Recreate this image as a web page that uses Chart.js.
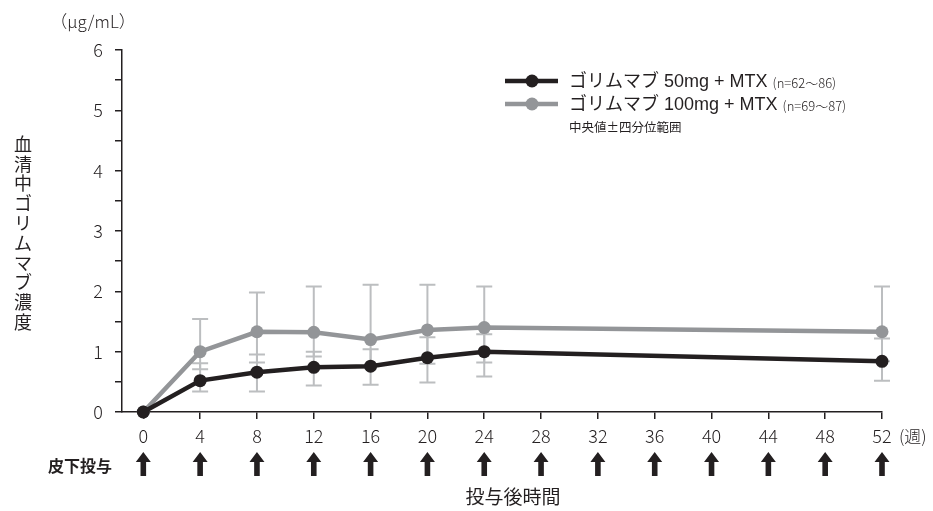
<!DOCTYPE html>
<html>
<head>
<meta charset="utf-8">
<script src="https://cdn.jsdelivr.net/npm/chart.js@4"></script>
<style>
  html, body { margin: 0; padding: 0; background: #fff; }
  #wrap { width: 933px; height: 511px; position: relative; }
</style>
</head>
<body>
<div id="wrap"><canvas id="grafico"></canvas></div>
<script>
// dados
var semanas = [0, 4, 8, 12, 16, 20, 24, 52];
var mediana_50 = [0, 0.52, 0.66, 0.74, 0.76, 0.90, 1.00, 0.84];
var q1_50 = [0, 0.34, 0.34, 0.44, 0.45, 0.49, 0.59, 0.52];
var q3_50 = [0, 0.81, 0.955, 1.00, 1.04, 1.24, 1.29, 1.22];
var mediana_100 = [0, 1.00, 1.33, 1.32, 1.20, 1.36, 1.40, 1.33];
var q1_100 = [0, 0.71, 0.82, 0.92, 0.76, 0.80, 0.82, 0.84];
var q3_100 = [0, 1.54, 1.98, 2.08, 2.11, 2.11, 2.08, 2.08];
var ticks_x = [0, 4, 8, 12, 16, 20, 24, 28, 32, 36, 40, 44, 48, 52];
var ticks_y = [0, 0.5, 1, 1.5, 2, 2.5, 3, 3.5, 4, 4.5, 5, 5.5, 6];
var semanas_dose = [0, 4, 8, 12, 16, 20, 24, 28, 32, 36, 40, 44, 48, 52];
var rotulo_50 = "ゴリムマブ 50mg + MTX";
var n_50 = "(n=62〜86)";
var rotulo_100 = "ゴリムマブ 100mg + MTX";
var n_100 = "(n=69〜87)";

var PRETO = "#231f20";
var CINZA = "#939598";
var CINZA_ERRO = "#bcbec0";
var FONTE = "'Noto Sans CJK JP', 'Noto Sans', sans-serif";
var FONTE_LEG = "'Liberation Sans', 'Noto Sans CJK JP', sans-serif";

function pontos(med) {
  return semanas.map(function (s, i) { return { x: s, y: med[i] }; });
}

// barras de erro (atrás das linhas)
var pluginErro = {
  id: "erro",
  beforeDatasetsDraw: function (chart) {
    var ctx = chart.ctx, sx = chart.scales.x, sy = chart.scales.y;
    var series = [[q1_100, q3_100], [q1_50, q3_50]];
    ctx.save();
    ctx.strokeStyle = CINZA_ERRO;
    ctx.lineWidth = 2;
    series.forEach(function (s) {
      semanas.forEach(function (w, i) {
        if (s[1][i] === s[0][i]) return;
        var x = sx.getPixelForValue(w);
        var y1 = sy.getPixelForValue(s[0][i]);
        var y2 = sy.getPixelForValue(s[1][i]);
        ctx.beginPath();
        ctx.moveTo(x, y1); ctx.lineTo(x, y2);
        ctx.moveTo(x - 8, y1); ctx.lineTo(x + 8, y1);
        ctx.moveTo(x - 8, y2); ctx.lineTo(x + 8, y2);
        ctx.stroke();
      });
    });
    ctx.restore();
  }
};

// textos, legenda e setas
var pluginExtras = {
  id: "extras",
  afterDraw: function (chart) {
    var ctx = chart.ctx, sx = chart.scales.x;
    ctx.save();
    ctx.fillStyle = PRETO;

    // unidade
    ctx.font = "300 17px " + FONTE;
    ctx.textAlign = "center";
    ctx.textBaseline = "middle";
    ctx.fillText("（μg/mL）", 93, 22);

    // titulo y vertical
    ctx.font = "18px " + FONTE;
    var tit = "血清中ゴリムマブ濃度";
    for (var i = 0; i < tit.length; i++) {
      ctx.fillText(tit[i], 23, 144 + i * 19.8);
    }

    // (週)
    ctx.font = "300 17px " + FONTE;
    ctx.textAlign = "left";
    ctx.fillText("(週)", 899, 437);

    // titulo x
    ctx.font = "19px " + FONTE;
    ctx.textAlign = "center";
    ctx.fillText("投与後時間", 513, 497);

    // setas
    ctx.font = "bold 16px " + FONTE;
    ctx.textAlign = "left";
    ctx.fillText("皮下投与", 48, 466);
    semanas_dose.forEach(function (w) {
      var x = sx.getPixelForValue(w);
      ctx.beginPath();
      ctx.moveTo(x, 452);
      ctx.lineTo(x + 7.5, 462);
      ctx.lineTo(x + 2.8, 462);
      ctx.lineTo(x + 2.8, 476);
      ctx.lineTo(x - 2.8, 476);
      ctx.lineTo(x - 2.8, 462);
      ctx.lineTo(x - 7.5, 462);
      ctx.closePath();
      ctx.fill();
    });

    // legenda
    var linhas = [[PRETO, rotulo_50, n_50, 81], [CINZA, rotulo_100, n_100, 104]];
    linhas.forEach(function (l) {
      ctx.strokeStyle = l[0];
      ctx.fillStyle = l[0];
      ctx.lineWidth = 4.5;
      ctx.beginPath();
      ctx.moveTo(505, l[3]); ctx.lineTo(558, l[3]);
      ctx.stroke();
      ctx.beginPath();
      ctx.arc(532, l[3], 6.5, 0, Math.PI * 2);
      ctx.fill();
      ctx.fillStyle = PRETO;
      ctx.font = "18px " + FONTE_LEG;
      ctx.textAlign = "left";
      ctx.fillText(l[1], 569, l[3] + 1);
      var w = ctx.measureText(l[1]).width;
      ctx.font = "300 13px " + FONTE;
      ctx.fillText(l[2], 569 + w + 5, l[3] + 2);
    });
    ctx.font = "12.5px " + FONTE;
    ctx.fillText("中央値±四分位範囲", 569, 127);
    ctx.restore();
  }
};

var dados = {
  datasets: [{
    label: rotulo_50,
    data: pontos(mediana_50),
    borderColor: PRETO,
    backgroundColor: PRETO,
    borderWidth: 4.5,
    pointRadius: 6.5,
    pointBorderWidth: 0,
    pointHoverRadius: 6.5,
    clip: false
  },
  {
    label: rotulo_100,
    data: pontos(mediana_100),
    borderColor: CINZA,
    backgroundColor: CINZA,
    borderWidth: 4.5,
    pointRadius: 6.5,
    pointBorderWidth: 0,
    pointHoverRadius: 6.5,
    clip: false
  }]
};

var grafico = new Chart(document.getElementById("grafico"), {
  type: "line",
  data: dados,
  plugins: [pluginErro, pluginExtras],
  options: {
    responsive: true,
    maintainAspectRatio: false,
    animation: false,
    layout: { padding: { top: 50, right: 51, left: 0, bottom: 0 } },
    plugins: {
      legend: { display: false },
      tooltip: { enabled: false }
    },
    scales: {
      x: {
        type: "linear",
        min: -1.5,
        max: 52,
        afterBuildTicks: function (axis) {
          axis.ticks = ticks_x.map(function (v) { return { value: v }; });
        },
        afterFit: function (axis) { axis.height = 99; },
        grid: { drawOnChartArea: false, drawTicks: true, tickLength: 7, color: PRETO, lineWidth: 1.5 },
        border: { color: PRETO, width: 1.5 },
        ticks: {
          color: PRETO,
          padding: 6,
          maxRotation: 0,
          autoSkip: false,
          font: { family: FONTE, size: 18, weight: 300 }
        }
      },
      y: {
        min: 0,
        max: 6,
        afterBuildTicks: function (axis) {
          axis.ticks = ticks_y.map(function (v) { return { value: v }; });
        },
        afterFit: function (axis) { axis.width = 122; },
        grid: { drawOnChartArea: false, drawTicks: true, tickLength: 7, color: PRETO, lineWidth: 1.5 },
        border: { color: PRETO, width: 1.5 },
        ticks: {
          color: PRETO,
          padding: 12,
          autoSkip: false,
          font: { family: FONTE, size: 18, weight: 300 },
          callback: function (v) { return Number.isInteger(v) ? String(v) : ""; }
        }
      }
    }
  }
});
</script>
</body>
</html>
